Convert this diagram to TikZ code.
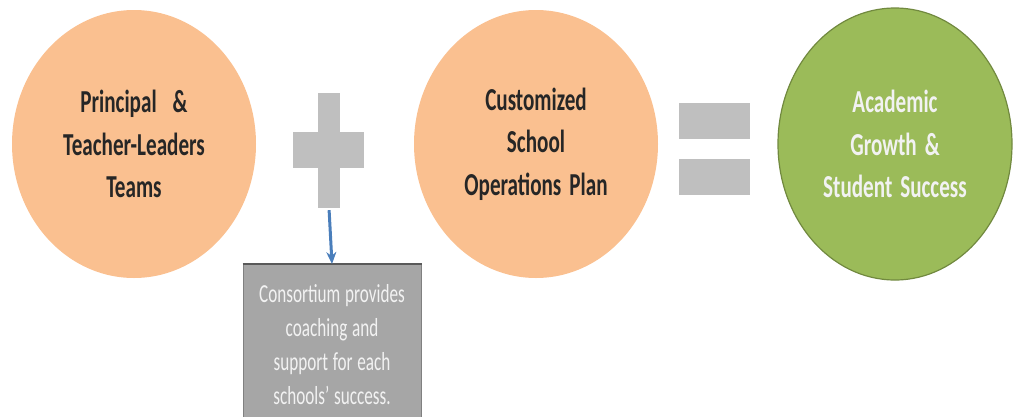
\documentclass[tikz,border=0pt]{standalone}
\usepackage{fontspec}
\setmainfont[FakeStretch=0.66]{Carlito}
\usetikzlibrary{shapes.geometric,arrows.meta}

\definecolor{peach}{RGB}{250,192,144}
\definecolor{leaf}{RGB}{155,187,89}
\definecolor{leafdark}{RGB}{113,137,63}
\definecolor{signgrey}{RGB}{191,191,191}
\definecolor{notegrey}{RGB}{166,166,166}
\definecolor{arrowblue}{RGB}{74,126,187}

\def\rx{244pt}
\def\ry{268pt}
\def\goalfont{\bfseries\fontsize{32}{42.5}\selectfont\spaceskip 0.25em\relax}
\def\notefont{\fontsize{26}{34}\selectfont\spaceskip 0.18em\relax}

\begin{document}
\begin{tikzpicture}[x=1pt,y=-1pt]
		\tikzstyle{goal}=[ellipse,minimum width=\rx,minimum height=\ry,inner sep=0pt,align=center,font=\goalfont]
		\tikzstyle{input goal}=[goal,fill=peach,text=black!85];
		\tikzstyle{result goal}=[goal,fill=leaf,draw=leafdark,line width=1.2pt,text=white!95!black];
		\tikzstyle{bar}=[rectangle,fill=signgrey,inner sep=0pt]
		\tikzstyle{note}=[rectangle,fill=notegrey,draw=black!50,line width=1pt,text=white!95!black,minimum width=178pt,align=center,minimum height=160pt,font=\notefont]
		
		\useasboundingbox (0,0) rectangle (1013,416);
		\clip (0,0) rectangle (1013,416);
		
		% Draw the three circles
		\node[input goal] (teams) at (134,144) {Principal \ \&\\Teacher-Leaders\\Teams};
		\node[input goal] (plan) at (536,144) {Customized\\School\\Operations Plan};
		\node[result goal,minimum width=234pt,minimum height=272pt] (success) at (895,144) {Academic\\Growth \&\\Student Success};
		
		% Draw the plus sign
		\node[bar,minimum width=22pt,minimum height=115pt] (plus-v) at (329,150.5) {};
		\node[bar,minimum width=71pt,minimum height=36pt] (plus-h) at (328.5,150) {};
		
		% Draw the equals sign
		\foreach \name / \y in {1/121,2/176.5}
			\node[bar,minimum width=71pt,minimum height=36pt] (eq-\name) at (714.5,\y) {};
		
		% The note under the plus sign
		\node[note,anchor=north] (coaching) at (332,264) {Consortium provides\\coaching and\\support for each\\schools' success.};
		\draw[black!65,line width=1.5pt] (coaching.north west) -- (coaching.north east);
		
		\draw[-{Stealth[length=12pt,width=10pt]},arrowblue,line width=3pt,shorten <=2pt] (plus-v.south) -- (coaching.north);
	\end{tikzpicture}
\end{document}
